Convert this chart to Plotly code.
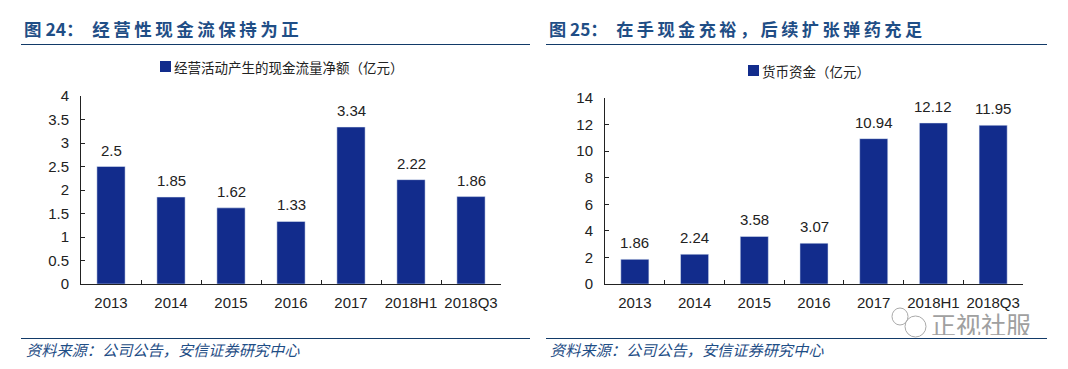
import plotly.graph_objects as go

W, H = 1068, 369
categories = ["2013", "2014", "2015", "2016", "2017", "2018H1", "2018Q3"]
cash_flow = [2.5, 1.85, 1.62, 1.33, 3.34, 2.22, 1.86]
cash_funds = [1.86, 2.24, 3.58, 3.07, 10.94, 12.12, 11.95]
labels_left = ["2.5", "1.85", "1.62", "1.33", "3.34", "2.22", "1.86"]
labels_right = ["1.86", "2.24", "3.58", "3.07", "10.94", "12.12", "11.95"]
name_left = "经营活动产生的现金流量净额（亿元）"
name_right = "货币资金（亿元）"
yticks_left = [0, 0.5, 1, 1.5, 2, 2.5, 3, 3.5, 4]
yticks_right = [0, 2, 4, 6, 8, 10, 12, 14]
SP = "\u2009"
title_left = "<b>图 24：\u2002" + SP.join("经营性现金流保持为正") + "</b>"
title_right = "<b>图 25：\u2002" + SP.join("在手现金充裕，后续扩张弹药充足") + "</b>"
source = "<i>资料来源：公司公告，安信证券研究中心</i>"

BAR = "#122C8C"
NAVY = "#1F4E86"
CJK = "Noto Sans CJK SC"
SANS = "Liberation Sans, Noto Sans CJK SC"
TICK = 15

def px(x): return x / W
def py(y): return 1 - y / H

fig = go.Figure()
fig.add_bar(x=categories, y=cash_flow, name=name_left, marker_color=BAR,
            xaxis="x", yaxis="y", showlegend=False)
fig.add_bar(x=categories, y=cash_funds, name=name_right, marker_color=BAR,
            xaxis="x2", yaxis="y2", showlegend=False)

axis_x = dict(type="category", tickson="boundaries", ticks="inside", ticklen=4, tickcolor="#222",
              showline=True, linecolor="#222", linewidth=1, showgrid=False, tickangle=0,
              categoryorder="array", categoryarray=categories, range=[-0.5, len(categories) - 0.5],
              tickfont=dict(size=TICK, color="#222"), ticklabelstandoff=5)
axis_y = dict(ticks="inside", ticklen=4, tickcolor="#222", showline=True, linecolor="#222",
              linewidth=1, showgrid=False, zeroline=False, tickfont=dict(size=TICK, color="#222"),
              ticklabelstandoff=8)

shapes = []
for (x0, x1, y) in [(21, 530, 44), (546, 1047, 44), (21, 530, 338), (546, 1047, 338)]:
    shapes.append(dict(type="line", xref="paper", yref="paper", x0=px(x0), x1=px(x1),
                       y0=py(y + 0.5), y1=py(y + 0.5), line=dict(color="#123A68", width=1)))
for (x0, y0, x1, y1) in [(892, 308, 908, 325), (905, 316, 926, 337)]:
    shapes.append(dict(type="circle", xref="paper", yref="paper", x0=px(x0), x1=px(x1),
                       y0=py(y0), y1=py(y1), line=dict(color="#AAAAAA", width=1)))
# legend swatches
for (x0, y0) in [(160, 61), (748, 65)]:
    shapes.append(dict(type="rect", xref="paper", yref="paper", x0=px(x0), x1=px(x0 + 11),
                       y0=py(y0), y1=py(y0 + 11), fillcolor=BAR, line=dict(color=BAR, width=0)))

def note(x, y, text, size, color, family=CJK, anchor="left", **kw):
    return dict(xref="paper", yref="paper", x=px(x), y=py(y), text=text, showarrow=False,
                xanchor=anchor, yanchor="middle", font=dict(size=size, color=color, family=family), **kw)

annotations = [
    note(22, 29, title_left, 17.5, NAVY),
    note(547, 29, title_right, 17.2, NAVY),
    note(24, 349, source, 15.2, NAVY),
    note(548, 349, source, 15.2, NAVY),
    note(929, 324, "正视社服", 25, "#A0A0A0", height=22),
    note(172, 67, name_left, 13.5, "#222"),
    note(760, 71, name_right, 13.5, "#222"),
]
for xr, yr, vals, labs in [("x", "y", cash_flow, labels_left), ("x2", "y2", cash_funds, labels_right)]:
    for i, (v, t) in enumerate(zip(vals, labs)):
        annotations.append(dict(xref=xr, yref=yr, x=i, y=v, text=t, showarrow=False, yanchor="bottom",
                                xanchor="center", yshift=6,
                                font=dict(size=TICK, color="#222", family=SANS)))

fig.update_layout(
    width=W, height=H, margin=dict(l=0, r=0, t=0, b=0, autoexpand=False), autosize=False,
    paper_bgcolor="white", plot_bgcolor="white", bargap=0.53, showlegend=False,
    font=dict(family=SANS, size=TICK, color="#222"),
    xaxis=dict(domain=[px(81), px(501)], anchor="y", **axis_x),
    yaxis=dict(domain=[py(284), py(96)], anchor="x", range=[0, 4], tickvals=yticks_left,
               ticktext=[str(v) for v in yticks_left], **axis_y),
    xaxis2=dict(domain=[px(605), px(1023)], anchor="y2", **axis_x),
    yaxis2=dict(domain=[py(284), py(98)], anchor="x2", range=[0, 14], tickvals=yticks_right,
                ticktext=[str(v) for v in yticks_right], **axis_y),
    shapes=shapes, annotations=annotations,
)
fig.write_html("out.html", config={"displayModeBar": False},
               post_script="document.body.style.margin='0';")
